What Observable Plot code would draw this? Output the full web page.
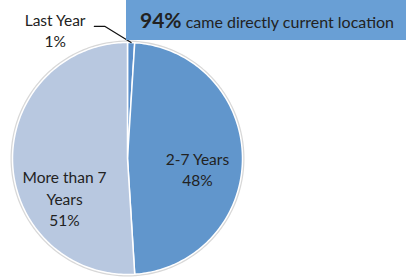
<!DOCTYPE html>
<html>
<head>
<meta charset="utf-8">
<script src="https://cdn.jsdelivr.net/npm/d3@7"></script>
<script src="https://cdn.jsdelivr.net/npm/@observablehq/plot@0.6"></script>
<style>
  body { margin: 0; background: #fff; }
  #wrap { position: relative; width: 406px; height: 277px; font-family: Lato, "Open Sans", sans-serif; }
  #callout { position: absolute; left: 126px; top: 0; width: 280px; height: 40px; background: #699fd5;
    color: #222; font-size: 16px; line-height: 40px; white-space: nowrap; padding-left: 14px; box-sizing: border-box; }
  #callout b { font-size: 21px; }
</style>
</head>
<body>
<div id="wrap"><div id="callout"><b>94%</b> came directly current location</div></div>
<script>
const categories = ["Last Year", "2-7 Years", "More than 7 Years"];
const labelText = ["Last Year\n1%", "2-7 Years\n48%", "More than 7\nYears\n51%"];
const values = [1, 48, 51];
const colors = ["#5a8fca", "#6196cc", "#b8c8e0"];

const arcs = d3.pie().sort(null).value(d => d)(values);
const pt = (a, r) => ({x: r * Math.sin(a), y: r * Math.cos(a)});

const slices = arcs.map((a, i) => {
  const n = Math.max(2, Math.ceil((a.endAngle - a.startAngle) / 0.02));
  const pts = [{x: 0, y: 0}];
  for (let k = 0; k <= n; ++k) pts.push(pt(a.startAngle + (a.endAngle - a.startAngle) * k / n, 1));
  return {name: categories[i], color: colors[i], pts, mid: (a.startAngle + a.endAngle) / 2};
});

const ring = d3.range(0, 361, 2).map(d => pt(d * Math.PI / 180, 1));

// label anchors derived from slice mid angles
const inside = slices.map(s => pt(s.mid, 0.6));
const edge0 = pt(slices[0].mid, 1);

const marks = [
  Plot.line(ring, {x: "x", y: "y", stroke: "#d8d8d8", strokeWidth: 4, curve: "linear-closed"}),
  ...slices.map(s => Plot.line(s.pts, {x: "x", y: "y", fill: s.color, stroke: "white", strokeWidth: 1.5, curve: "linear-closed"})),
  // leader line for the small slice
  Plot.line([edge0, {x: edge0.x - 0.23, y: edge0.y + 0.14}, {x: edge0.x - 0.32, y: edge0.y + 0.14}],
    {x: "x", y: "y", stroke: "#111", strokeWidth: 1.2}),
  Plot.text([labelText[0]], {x: () => edge0.x, y: () => edge0.y, text: d => d, dx: -76, dy: -13, fontSize: 15.5, lineHeight: 1.4, fill: "#222"}),
  Plot.text([labelText[1]], {x: () => inside[1].x, y: () => inside[1].y, text: d => d, dx: 1, dy: 10, fontSize: 15.5, lineHeight: 1.4, fill: "#222"}),
  Plot.text([labelText[2]], {x: () => inside[2].x, y: () => inside[2].y, text: d => d, dx: 6, dy: 37, fontSize: 15.5, lineHeight: 1.4, fill: "#222"})
];

const chart = Plot.plot({
  width: 406,
  height: 277,
  marginLeft: 12,
  marginRight: 164,
  marginTop: 42,
  marginBottom: 3,
  x: {domain: [-1, 1], axis: null},
  y: {domain: [-1, 1], axis: null},
  style: {fontFamily: "Lato, 'Open Sans', sans-serif", background: "transparent"},
  marks
});
chart.style.position = "absolute";
chart.style.left = "0";
chart.style.top = "0";
document.getElementById("wrap").prepend(chart);
</script>
</body>
</html>
